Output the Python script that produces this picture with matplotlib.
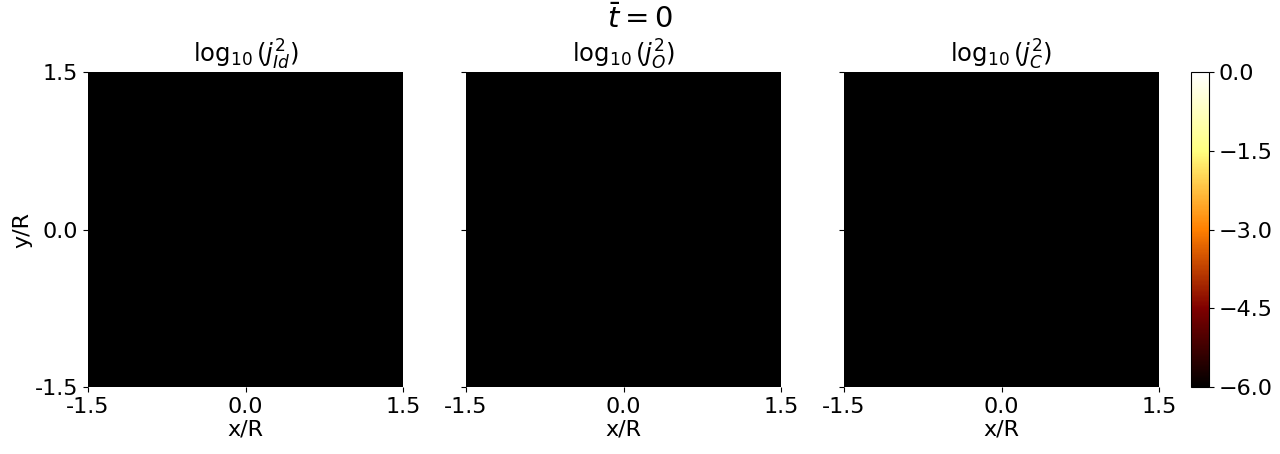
import numpy as np
import matplotlib
matplotlib.use("Agg")
import matplotlib.pyplot as plt

TITLES = [r"$\log_{10}(j_{Id}^2)$", r"$\log_{10}(j_{O}^2)$", r"$\log_{10}(j_{C}^2)$"]
SUPTITLE = r"$\bar{t} = 0$"
EXTENT = [-1.5, 1.5, -1.5, 1.5]
TICKS = [-1.5, 0.0, 1.5]
TICK_LABELS = ["-1.5", "0.0", "1.5"]
CBAR_TICKS = [0.0, -1.5, -3.0, -4.5, -6.0]
VMIN, VMAX = -6.0, 0.0

# log10 of current density squared at t=0 (field is at the floor everywhere)
J_ID = [[-6.0, -6.0], [-6.0, -6.0]]
J_O = [[-6.0, -6.0], [-6.0, -6.0]]
J_C = [[-6.0, -6.0], [-6.0, -6.0]]

plt.rcParams["font.size"] = 16

fig = plt.figure(figsize=(12.8, 4.54), dpi=100)
lefts = [88, 466, 844]
axes = []
for i, (left, field) in enumerate(zip(lefts, [J_ID, J_O, J_C])):
    ax = fig.add_axes([left / 1280, 67 / 454, 315 / 1280, 315 / 454])
    im = ax.imshow(np.array(field), cmap="afmhot", vmin=VMIN, vmax=VMAX,
                   extent=EXTENT, origin="lower", aspect="auto")
    ax.set_title(TITLES[i], fontsize=17.5, pad=2)
    ax.set_xticks(TICKS, TICK_LABELS)
    ax.set_yticks(TICKS, TICK_LABELS if i == 0 else [])
    ax.set_xlabel("x/R", labelpad=2)
    if i == 0:
        ax.set_ylabel("y/R", labelpad=2)
    for sp in ax.spines.values():
        sp.set_visible(False)
    axes.append(ax)

cax = fig.add_axes([1191 / 1280, 67 / 454, 18 / 1280, 315 / 454])
cb = fig.colorbar(im, cax=cax, ticks=CBAR_TICKS)
cb.ax.set_yticklabels([f"{t:.1f}".replace("-", "\u2212") for t in CBAR_TICKS])

fig.suptitle(SUPTITLE, fontsize=21, y=0.99)
fig.savefig("out.png", dpi=100)
